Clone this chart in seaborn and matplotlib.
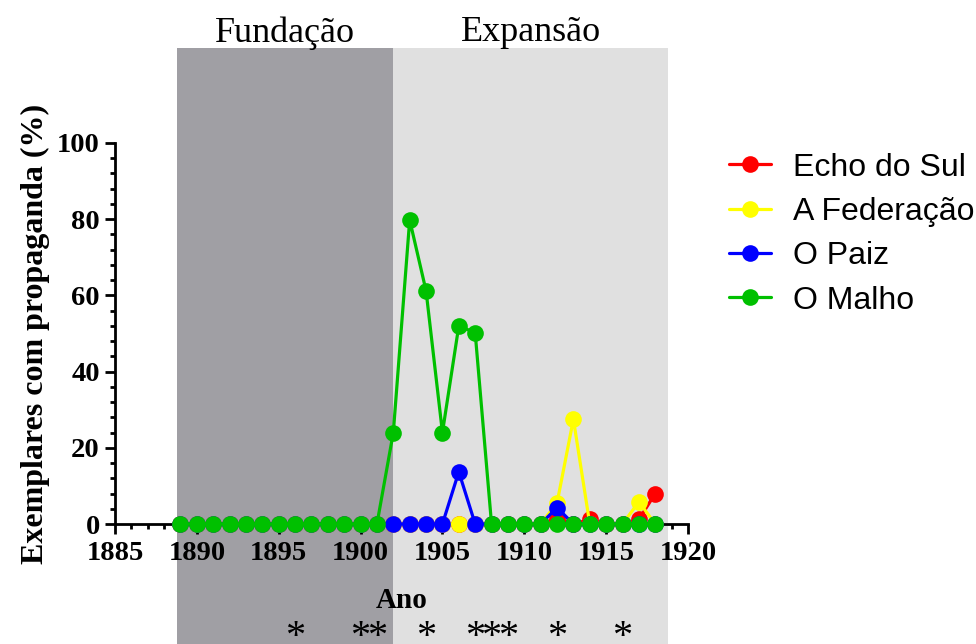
import matplotlib
matplotlib.use("Agg")
import matplotlib.pyplot as plt
import matplotlib.transforms as mtransforms
from matplotlib.lines import Line2D
from matplotlib.ticker import MultipleLocator
import pandas as pd
import seaborn as sns

# data
years = list(range(1889, 1919))
echo_do_sul = [0, 0, 0, 0, 0, 0, 0, 0, 0, 0, 0, 0, 0, 0, 0,
               0, 0, 0, 0, 0, 0, 0, 0, 1.5, 0, 1.2, 0, 0, 1.2, 8.0]
a_federacao = [0, 0, 0, 0, 0, 0, 0, 0, 0, 0, 0, 0, 0, 0, 0,
               0, 0, 0, 0, 0, 0, 0, 0, 5.5, 27.5, 0, 0, 0, 5.8, 0]
o_paiz = [0, 0, 0, 0, 0, 0, 0, 0, 0, 0, 0, 0, 0, 0, 0,
          0, 0, 13.7, 0, 0, 0, 0, 0, 4.3, 0, 0, 0, 0, 0, 0]
o_malho = [0, 0, 0, 0, 0, 0, 0, 0, 0, 0, 0, 0, 0, 24.0, 79.8,
           61.2, 24.0, 52.0, 50.2, 0, 0, 0, 0, 0, 0, 0, 0, 0, 0, 0]

jornais = ["Echo do Sul", "A Federação", "O Paiz", "O Malho"]
cores = ["#ff0000", "#ffff00", "#0000ff", "#00c000"]

periodos = ["Fundação", "Expansão"]
periodo_limites = [(1888.8, 1902.0), (1902.0, 1918.8)]
periodo_cores = ["#a09fa4", "#e0e0e0"]

signif_anos = [1896, 1900, 1901, 1904, 1907, 1908, 1909, 1912, 1916]

df = pd.concat([
    pd.DataFrame({"Ano": years, "valor": vals, "Jornal": nome})
    for nome, vals in zip(jornais, [echo_do_sul, a_federacao, o_paiz, o_malho])
])

sns.set_style("ticks")
plt.rcParams["font.family"] = ["Liberation Serif", "DejaVu Serif"]
for k in ["text.color", "axes.labelcolor", "xtick.color", "ytick.color", "axes.edgecolor"]:
    plt.rcParams[k] = "black"

fig = plt.figure(figsize=(9.76, 6.44), dpi=100)
ax = fig.add_axes([115 / 976, 1 - 524 / 644, 573 / 976, 381 / 644])
ax.set_facecolor("none")

for (x0, x1), c in zip(periodo_limites, periodo_cores):
    ax.axvspan(x0, x1, ymin=-0.33, ymax=1.249, color=c, lw=0, zorder=0, clip_on=False)

sns.lineplot(data=df, x="Ano", y="valor", hue="Jornal", hue_order=jornais,
             palette=cores, marker="o", markersize=12, markeredgewidth=0,
             linewidth=2.3, errorbar=None, legend=False, clip_on=False,
             zorder=3, ax=ax)

ax.set_xlim(1885, 1920)
ax.set_ylim(0, 100)
ax.xaxis.set_major_locator(MultipleLocator(5))
ax.xaxis.set_minor_locator(MultipleLocator(1))
ax.yaxis.set_major_locator(MultipleLocator(20))
ax.yaxis.set_minor_locator(MultipleLocator(4))
ax.tick_params(which="major", length=7, width=2, labelsize=20.5, pad=4)
ax.tick_params(axis="x", which="major", pad=5.5)
ax.tick_params(which="minor", length=3.5, width=2)
for lab in ax.get_xticklabels() + ax.get_yticklabels():
    lab.set_fontweight("bold")
sns.despine(ax=ax)
for s in ["left", "bottom"]:
    ax.spines[s].set_linewidth(2)
    ax.spines[s].set_zorder(2.5)

ax.set_ylabel("Exemplares com propaganda (%)", fontsize=23, fontweight="bold")
ax.yaxis.set_label_coords(-0.113, 0.5)
ax.set_xlabel("Ano", fontsize=21, fontweight="bold")
ax.xaxis.set_label_coords(0.5, -0.166)

trans = mtransforms.blended_transform_factory(ax.transData, ax.transAxes)
for nome, (x0, x1) in zip(periodos, periodo_limites):
    ax.text((x0 + x1) / 2, 1.289, nome, transform=trans, ha="center",
            va="center", fontsize=26)
for ano in signif_anos:
    ax.text(ano, -0.322, "*", transform=trans, ha="center", va="baseline",
            fontsize=29)

handles = [Line2D([], [], color=c, marker="o", markersize=12,
                  markeredgewidth=0, linewidth=2.3) for c in cores]
ax.legend(handles, jornais, loc="upper left", bbox_to_anchor=(1.0716, 0.975),
          frameon=False, prop={"family": "Liberation Sans", "size": 23},
          handlelength=1.3, handletextpad=0.7, labelspacing=0.45,
          borderaxespad=0, borderpad=0)

fig.savefig("out.png", dpi=100)
